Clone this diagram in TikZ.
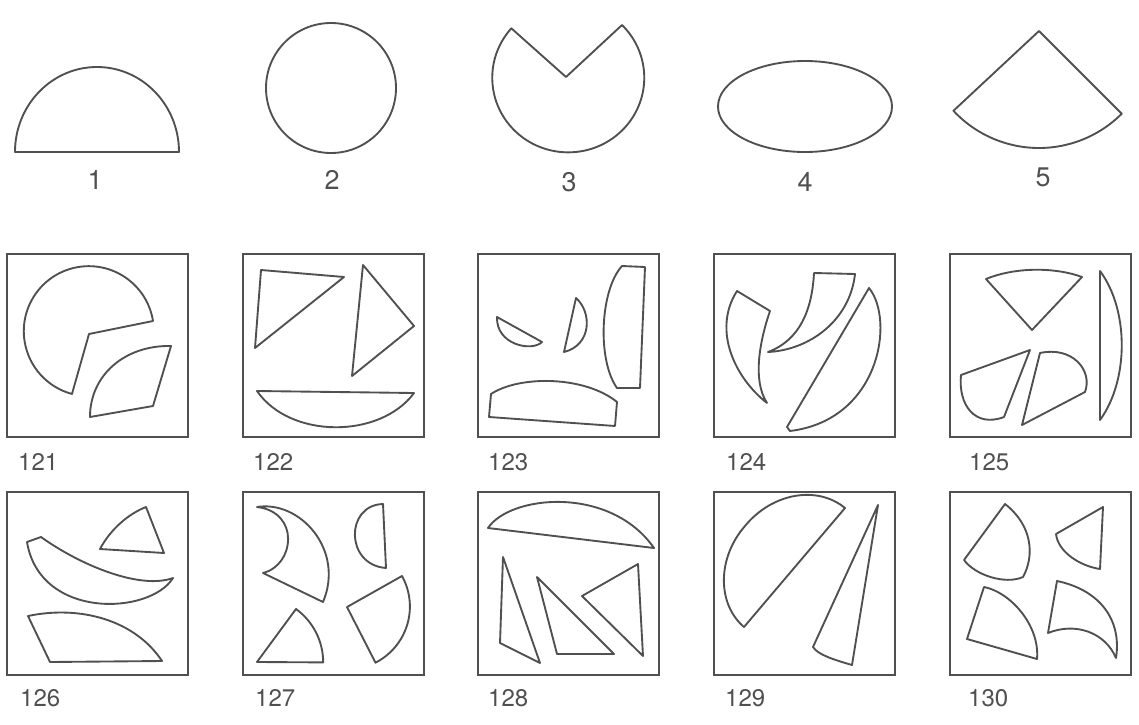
\documentclass[tikz,border=0pt]{standalone}
\usepackage{fontspec}
\setmainfont{TeX Gyre Heros}
\definecolor{ink}{RGB}{80,80,80}
\tikzset{
  piece/.style={draw=ink, line width=1.6pt, line join=round},
  frame/.style={draw=ink, line width=2pt},
  bignum/.style={text=ink, inner sep=0pt, font=\fontsize{23}{23}\selectfont},
  boxnum/.style={text=ink, inner sep=0pt, anchor=west, font=\fontsize{20.5}{20.5}\selectfont},
}
\begin{document}
\begin{tikzpicture}[x=0.03cm, y=-0.03cm]
  \useasboundingbox (0,0) rectangle (1139,725); % bounding box fix

  % the five whole figures
  \draw[piece] (15,152) -- (179,152) arc[start angle=0, end angle=-180, x radius=82, y radius=85] -- cycle;
  \draw[piece] (331,88) circle[radius=65];
  \draw[piece] (566,77) -- (622,25) arc[start angle=-45, end angle=221.5, x radius=76, y radius=74.6] -- cycle;
  \draw[piece] (805,106.5) ellipse[x radius=87, y radius=45.5];
  \draw[piece] (1039,31) -- ++(45:117) arc[start angle=45, end angle=137, radius=117] -- cycle;
  \foreach \x/\y/\n in {95/180/1, 332/180/2, 569/182/3, 805/182/4, 1043/177/5}
    \node[bignum] (lab\n) at (\x,\y) {\n};

  % frames and their numbers
  \foreach \x in {7,243,478,714,950} {
    \draw[frame] (\x,254) rectangle ++(181,183);
    \draw[frame] (\x,492) rectangle ++(181,183);
  }
  \foreach \x/\n in {18/121, 253/122, 488/123, 726/124, 969/125}
    \node[boxnum] (lab\n) at (\x,462) {\n};
  \foreach \x/\n in {20/126, 255/127, 488/128, 725/129, 968/130}
    \node[boxnum] (lab\n) at (\x,698) {\n};

  % 121
  \draw[piece] (89,334) -- (153,321) arc[start angle=-9, end angle=-255, radius=65] -- cycle;
  \draw[piece] (171,346) .. controls (125,345) and (90,375) .. (90,417) -- (153,406) -- cycle;
  % 122
  \draw[piece] (261,270) -- (344,277) -- (255,348) -- cycle;
  \draw[piece] (363,265) -- (414,326) -- (352,376) -- cycle;
  \draw[piece] (257,391) -- (414,393) .. controls (380,439) and (290,439) .. (257,391) -- cycle;
  % 123
  \draw[piece] (497,317) -- (542,342) .. controls (532,352) and (496,345) .. (497,317) -- cycle;
  \draw[piece] (576,298) .. controls (592,312) and (592,345) .. (564,352) -- cycle;
  \draw[piece] (622,266) -- (645,267) -- (640,388) -- (617,388) .. controls (597,360) and (600,290) .. (622,266) -- cycle;
  \draw[piece] (489,417) -- (491,394) .. controls (520,375) and (585,376) .. (617,402) -- (615,426) -- cycle;
  % 124
  \draw[piece] (737,291) -- (770,311) .. controls (760,340) and (752,380) .. (767,403) .. controls (735,378) and (712,330) .. (737,291) -- cycle;
  \draw[piece] (814,273) -- (855,274) .. controls (850,320) and (810,350) .. (768,352) .. controls (800,340) and (812,310) .. (814,273) -- cycle;
  \draw[piece] (787,427) -- (869,288) .. controls (895,320) and (880,420) .. (790,431) -- cycle;
  % 125
  \draw[piece] (1032,330) -- (986,279) .. controls (1015,267) and (1055,267) .. (1082,277) -- cycle;
  \draw[piece] (1100,271) .. controls (1129,310) and (1129,380) .. (1100,420) -- cycle;
  \draw[piece] (1030,350) -- (961,375) .. controls (958,405) and (975,428) .. (1004,417) -- cycle;
  \draw[piece] (1022,425) -- (1040,353) .. controls (1072,346) and (1093,370) .. (1085,392) -- cycle;

  % 126
  \draw[piece] (146,507) -- (164,553) -- (100,549) .. controls (110,530) and (128,514) .. (146,507) -- cycle;
  \draw[piece] (27,542) -- (41,537) .. controls (80,565) and (140,590) .. (173,578) .. controls (150,615) and (40,620) .. (27,542) -- cycle;
  \draw[piece] (50,662) -- (28,616) .. controls (80,605) and (135,620) .. (162,661) -- cycle;
  % 127
  \draw[piece] (257,507) .. controls (300,500) and (345,550) .. (323,602) -- (263,573) .. controls (295,565) and (300,512) .. (257,507) -- cycle;
  \draw[piece] (383,504) -- (386,568) .. controls (345,565) and (345,505) .. (383,504) -- cycle;
  \draw[piece] (257,662) -- (296,609) arc[start angle=-54, end angle=0, radius=66] -- cycle;
  \draw[piece] (347,607) -- (402,576) arc[start angle=-29, end angle=63, radius=63] -- cycle;
  % 128
  \draw[piece] (488,528) .. controls (510,495) and (610,485) .. (654,548) -- cycle;
  \draw[piece] (503,557) -- (500,643) -- (540,663) -- cycle;
  \draw[piece] (537,577) -- (557,654) -- (614,654) -- cycle;
  \draw[piece] (638,564) -- (582,596) -- (643,656) -- cycle;
  % 129
  \draw[piece] (845,508) .. controls (817,485) and (772,493) .. (745,526) .. controls (717,558) and (717,604) .. (744,627) -- cycle;
  \draw[piece] (878,505) -- (852,665) .. controls (835,660) and (818,655) .. (813,647) -- cycle;
  % 130
  \draw[piece] (1005,504) -- (964,560) .. controls (975,575) and (1005,585) .. (1023,577) .. controls (1035,555) and (1032,525) .. (1005,504) -- cycle;
  \draw[piece] (1103,507) -- (1100,569) .. controls (1080,566) and (1058,552) .. (1056,534) -- cycle;
  \draw[piece] (967,639) -- (984,587) .. controls (1010,592) and (1040,625) .. (1037,659) -- cycle;
  \draw[piece] (1057,581) -- (1048,633) .. controls (1075,622) and (1105,632) .. (1116,658) .. controls (1122,620) and (1100,590) .. (1057,581) -- cycle;
\end{tikzpicture}
\end{document}
